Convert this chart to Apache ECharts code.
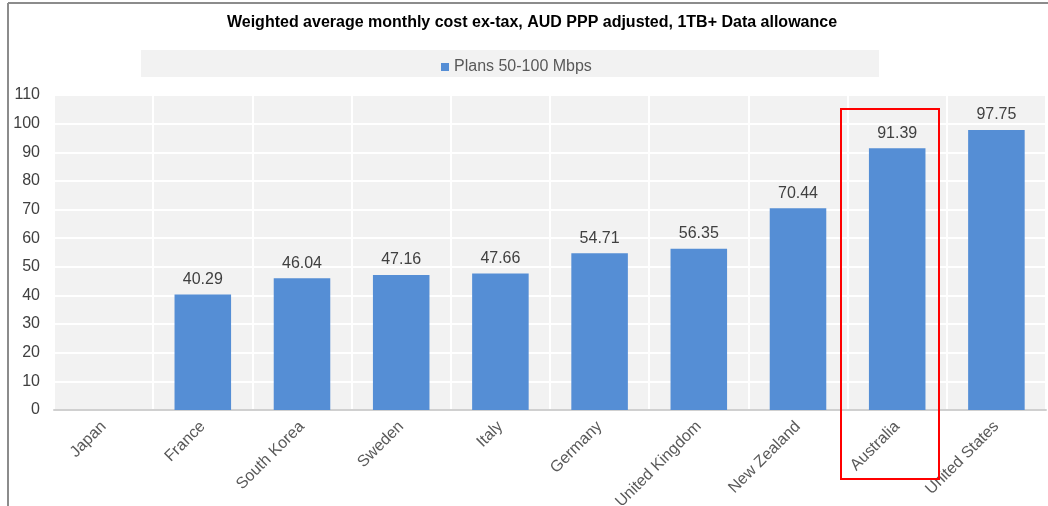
<!DOCTYPE html>
<html>
<head>
<meta charset="utf-8">
<script src="https://cdn.jsdelivr.net/npm/echarts@6/dist/echarts.min.js"></script>
<style>
  html, body { margin: 0; padding: 0; background: #fff; }
  #chart { width: 1048px; height: 506px; }
</style>
</head>
<body>
<div id="chart"></div>
<script>
// 数据
const countries = ['Japan', 'France', 'South Korea', 'Sweden', 'Italy', 'Germany',
  'United Kingdom', 'New Zealand', 'Australia', 'United States'];
const costs = [null, 40.29, 46.04, 47.16, 47.66, 54.71, 56.35, 70.44, 91.39, 97.75];
const seriesName = 'Plans 50-100 Mbps';
const titleText = 'Weighted average monthly cost ex-tax, AUD PPP adjusted, 1TB+ Data allowance';

let myChart = echarts.init(document.getElementById('chart'));
let fontColor = '#404040';

let option = {
  animation: false,
  title: {
    text: titleText,
    left: 527,
    textAlign: 'center',
    top: 10,
    textStyle: {
      fontFamily: 'Liberation Sans',
      fontSize: 16,
      fontWeight: 'bold',
      color: '#000'
    }
  },
  legend: {
    top: 54,
    left: 436,
    itemWidth: 8,
    itemHeight: 8,
    itemGap: 4,
    icon: 'rect',
    textStyle: {
      fontFamily: 'Liberation Sans',
      fontSize: 16,
      color: '#595959'
    },
    data: [seriesName]
  },
  grid: {
    left: 54,
    right: 2,
    top: 95,
    bottom: 96,
    containLabel: false,
    outerBoundsMode: 'none',
    show: true,
    backgroundColor: '#f2f2f2',
    borderWidth: 0
  },
  xAxis: {
    type: 'category',
    data: countries,
    axisLine: { show: true, lineStyle: { color: '#d0d0d0', width: 2 } },
    axisTick: { show: false },
    splitLine: { show: true, interval: 0, lineStyle: { color: '#ffffff', width: 2 } },
    axisLabel: {
      interval: 0,
      rotate: 45,
      margin: 14,
      fontFamily: 'Liberation Sans',
      fontSize: 16,
      color: '#595959'
    }
  },
  yAxis: {
    type: 'value',
    min: 0,
    max: 110,
    interval: 10,
    axisLine: { show: false },
    axisTick: { show: false },
    splitLine: { show: true, lineStyle: { color: '#ffffff', width: 2 } },
    axisLabel: {
      margin: 14,
      fontFamily: 'Liberation Sans',
      fontSize: 16,
      color: fontColor
    }
  },
  series: [{
    name: seriesName,
    type: 'bar',
    barWidth: '57%',
    itemStyle: { color: '#558ed5' },
    label: {
      show: true,
      position: 'top',
      distance: 7,
      fontFamily: 'Liberation Sans',
      fontSize: 16,
      color: fontColor,
      formatter: p => p.value == null ? '' : p.value.toFixed(2)
    },
    data: costs
  }],
  graphic: [
    // 图例背景
    { type: 'rect', z: -1, shape: { x: 141, y: 50, width: 738, height: 27 }, style: { fill: '#f2f2f2' } },
    // 外框
    { type: 'line', shape: { x1: 8, y1: 3, x2: 8, y2: 506 }, style: { stroke: '#8c8c8c', lineWidth: 2 } },
    { type: 'line', shape: { x1: 8, y1: 3, x2: 1048, y2: 3 }, style: { stroke: '#8c8c8c', lineWidth: 2 } },
    // 红框标注 Australia
    { type: 'rect', z: 100, shape: { x: 841, y: 109, width: 98, height: 370 }, style: { fill: 'none', stroke: '#ff0000', lineWidth: 2 } }
  ]
};

myChart.setOption(option);
</script>
</body>
</html>
